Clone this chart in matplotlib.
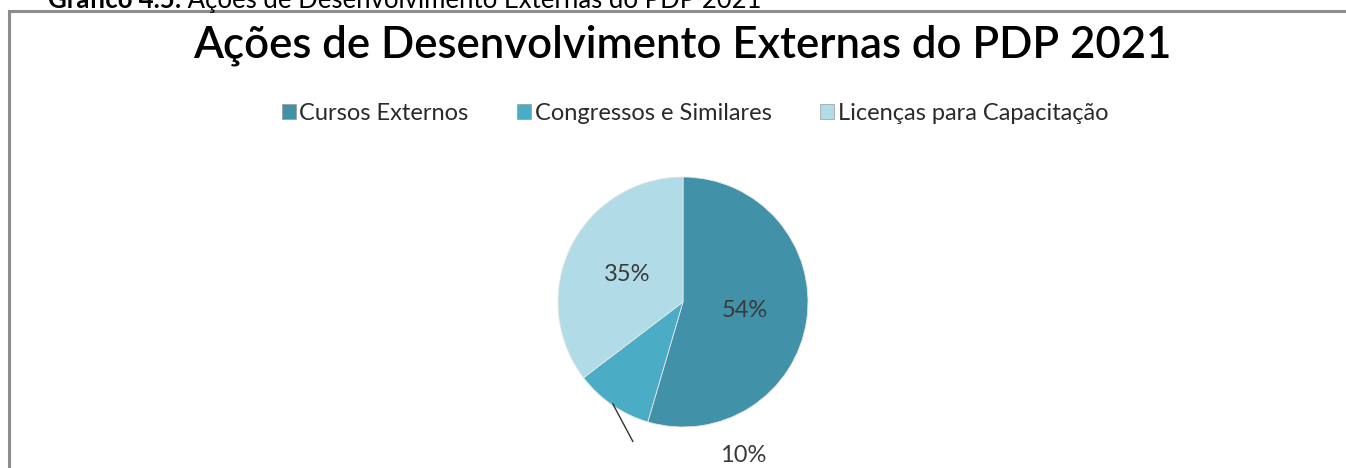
import matplotlib.pyplot as plt
import matplotlib.patches as mpatches
from matplotlib.lines import Line2D
import numpy as np

# Data
categories = ["Cursos Externos", "Congressos e Similares", "Licenças para Capacitação"]
shares = [54, 10, 35]
pct_labels = ["54%", "10%", "35%"]
colors = ["#4191a8", "#4bacc6", "#b1dce7"]

chart_title = "Ações de Desenvolvimento Externas do PDP 2021"
caption_bold = "Gráfico 4.5:"
caption_rest = " Ações de Desenvolvimento Externas do PDP 2021"

W, H = 1346, 468
plt.rcParams["font.family"] = ["Lato", "DejaVu Sans"]

fig = plt.figure(figsize=(W / 100, H / 100), dpi=100)

# page caption, cut off at the top of the screenshot (as in the source)
cap = fig.text(48 / W, 1 - 8 / H, caption_bold, fontsize=18.5, fontweight="bold",
               ha="left", va="baseline", color="#000000")
fig.canvas.draw()
bb = cap.get_window_extent()
fig.text(bb.x1 / W, 1 - 8 / H, caption_rest, fontsize=18.5,
         ha="left", va="baseline", color="#000000")

# chart frame (only top and left sides visible)
fig.add_artist(Line2D([9 / W, 1], [1 - 11 / H, 1 - 11 / H], color="#8c8c8c", lw=2.2))
fig.add_artist(Line2D([9 / W, 9 / W], [1 - 11 / H, 0], color="#8c8c8c", lw=2.2))

# title
fig.text(682 / W, 1 - 45 / H, chart_title, fontsize=31.5, fontweight="semibold",
         ha="center", va="center", color="#000000")

# legend
handles = [mpatches.Patch(facecolor=c, edgecolor="#9a9a9a", linewidth=0.5) for c in colors]
fig.legend(handles, categories, loc="center", bbox_to_anchor=(695 / W, 1 - 113 / H),
           ncol=3, frameon=False, fontsize=17, handlelength=0.6, handleheight=0.6,
           handletextpad=0.15, columnspacing=2.05, labelcolor="#2a2a2a")

# pie
cx, cy, r = 683, 302, 125
ax = fig.add_axes([(cx - r) / W, (H - cy - r) / H, 2 * r / W, 2 * r / H])
wedges, _ = ax.pie(shares, colors=colors, startangle=90, counterclock=False,
                   wedgeprops=dict(edgecolor="#e6e6e6", linewidth=0.6))
ax.set_aspect("equal")
ax.set_xlim(-1, 1)
ax.set_ylim(-1, 1)

for w, lab in zip(wedges, pct_labels):
    mid = np.deg2rad((w.theta1 + w.theta2) / 2)
    if lab == "10%":
        # label dragged outside with a leader line
        x0, y0 = np.cos(mid), np.sin(mid)
        ax.plot([x0 * 0.99, x0 * 0.99 + 0.16], [y0 * 0.99, y0 * 0.99 - 0.3],
                color="#333333", lw=1.0, clip_on=False)
        ax.text(0.48, -1.23, lab, fontsize=17, ha="center", va="center",
                color="#3a3a3a", clip_on=False)
    else:
        ax.text(0.5 * np.cos(mid), 0.5 * np.sin(mid), lab, fontsize=17,
                ha="center", va="center", color="#3a3a3a")

fig.savefig("out.png", dpi=100)
